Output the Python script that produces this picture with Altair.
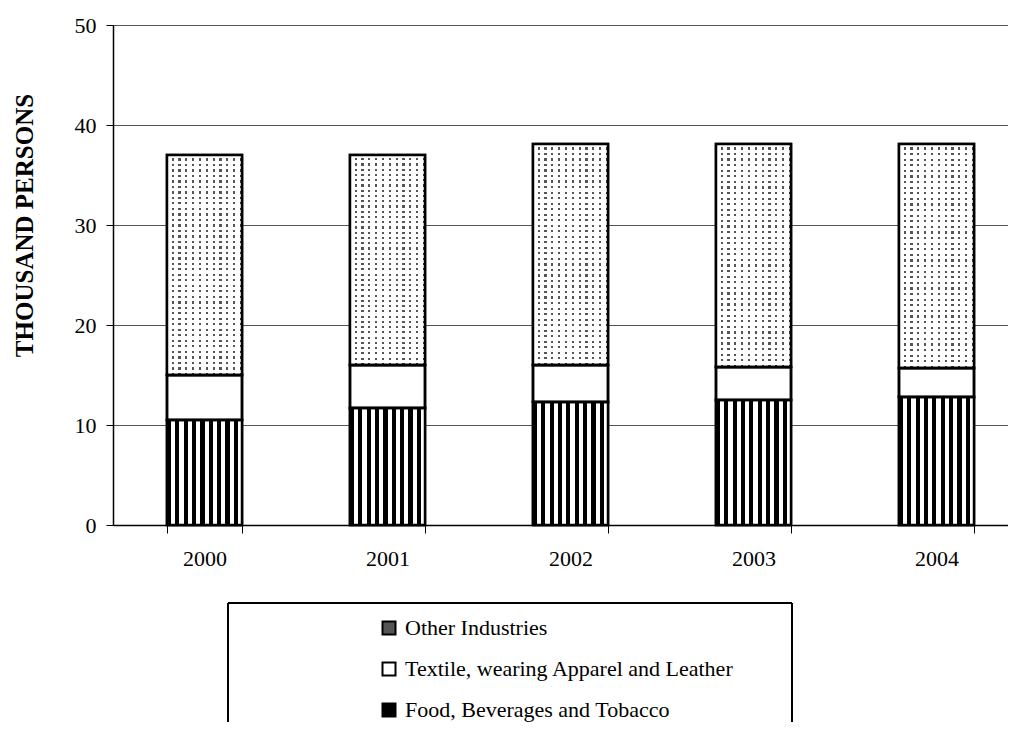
import altair as alt
import pandas as pd

years = ["2000", "2001", "2002", "2003", "2004"]
food = [10.5, 11.7, 12.3, 12.5, 12.8]
textile = [4.5, 4.3, 3.7, 3.3, 2.9]
other = [22.0, 21.0, 22.1, 22.3, 22.4]

cat_food = "Food, Beverages and Tobacco"
cat_text = "Textile, wearing Apparel and Leather"
cat_other = "Other Industries"
legend_order = [cat_other, cat_text, cat_food]

rows = []
for i, yr in enumerate(years):
    base = 0.0
    for cat, vals in [(cat_food, food), (cat_text, textile), (cat_other, other)]:
        rows.append({"year": yr, "category": cat, "value": vals[i],
                     "y0": base, "y1": base + vals[i]})
        base += vals[i]
df = pd.DataFrame(rows)

FONT = "Liberation Serif"


def stripes(n, frac, color_a, color_b, vertical):
    stops = []
    for i in range(n):
        s = i / n
        m = (i + frac) / n
        e = (i + 1) / n
        stops += [{"offset": s, "color": color_a}, {"offset": m, "color": color_a},
                  {"offset": m, "color": color_b}, {"offset": e, "color": color_b}]
    g = {"gradient": "linear", "stops": stops}
    if vertical:
        g.update({"x1": 0, "x2": 1, "y1": 0, "y2": 0})
    else:
        g.update({"x1": 0, "x2": 0, "y1": 0, "y2": 1})
    return g


xenc = alt.X("year:N", sort=years, title=None,
             scale=alt.Scale(range=[0, 915], paddingInner=0.59, paddingOuter=0.295),
             axis=alt.Axis(tickBand="extent", grid=False, labelAngle=0,
                           labelFont=FONT, labelFontSize=22, labelColor="black",
                           labelPadding=15, tickSize=8, tickColor="black",
                           domainColor="black", domainWidth=1.5))
yenc = alt.Y("y0:Q", title="THOUSAND PERSONS",
             scale=alt.Scale(domain=[0, 50], nice=False),
             axis=alt.Axis(values=[0, 10, 20, 30, 40, 50], grid=True,
                           gridColor="#555555", gridWidth=1,
                           labelFont=FONT, labelFontSize=22, labelColor="black",
                           labelPadding=10, tickSize=7, tickColor="black",
                           domainColor="black", domainWidth=1.5,
                           titleFont=FONT, titleFontSize=25, titleFontWeight="bold",
                           titleColor="black", titleAngle=270, titleX=-81, titleY=200,
                           titleAlign="center", titleBaseline="alphabetic"))

base = alt.Chart(df).mark_bar(stroke="black", strokeWidth=2.5).encode(
    x=xenc, y=yenc, y2="y1:Q",
    fill=alt.Fill("category:N",
                  scale=alt.Scale(domain=legend_order, range=["#555555", "white", "black"]),
                  legend=alt.Legend(title=None, orient="none", legendX=265, legendY=592,
                                    direction="vertical", symbolType="square",
                                    symbolSize=169, symbolStrokeColor="black",
                                    symbolStrokeWidth=2, labelFont=FONT, labelFontSize=22,
                                    labelColor="black", labelOffset=5, rowPadding=19,
                                    labelLimit=600)),
)

food_layer = alt.Chart(df).transform_filter(
    alt.datum.category == cat_food
).mark_bar(fill=stripes(9, 0.5, "black", "white", True), strokeWidth=0).encode(
    x=alt.X("year:N", sort=years), y="y0:Q", y2="y1:Q")

transp = "rgba(255,255,255,0)"
other_v = alt.Chart(df).transform_filter(
    alt.datum.category == cat_other
).mark_bar(fill=stripes(11, 0.68, "white", transp, True), strokeWidth=0).encode(
    x=alt.X("year:N", sort=years), y="y0:Q", y2="y1:Q")
other_h = alt.Chart(df).transform_filter(
    alt.datum.category == cat_other
).mark_bar(fill=stripes(40, 0.6, "white", transp, False), strokeWidth=0).encode(
    x=alt.X("year:N", sort=years), y="y0:Q", y2="y1:Q")

outline = alt.Chart(df).mark_bar(fillOpacity=0, stroke="black", strokeWidth=2.5).encode(
    x=alt.X("year:N", sort=years), y="y0:Q", y2="y1:Q")

box = alt.Chart(df).mark_rect(fillOpacity=0, stroke="black", strokeWidth=1).encode(
    x=alt.value(115), x2=alt.value(679), y=alt.value(578), y2=alt.value(760))

chart = alt.layer(base, food_layer, other_v, other_h, outline, box).properties(
    width=895, height=500,
    autosize=alt.AutoSizeParams(type="none"),
    padding={"left": 105, "top": 17, "right": 0, "bottom": 197},
).configure_view(stroke=None)

chart.save("out.html", embed_options={"renderer": "svg", "actions": False})
